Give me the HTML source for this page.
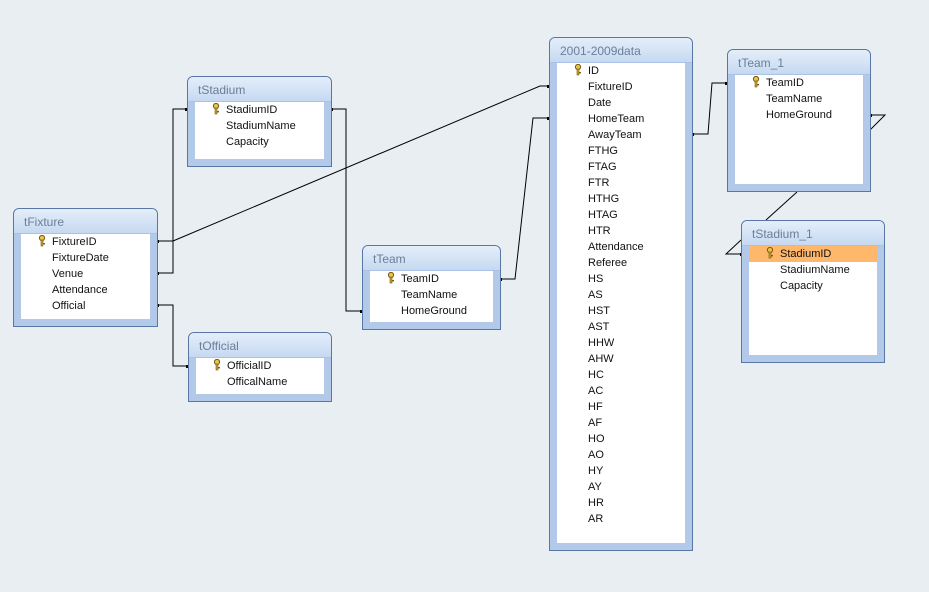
<!DOCTYPE html>
<html><head><meta charset="utf-8"><style>
body{margin:0;width:929px;height:592px;background:#e9eef2;position:relative;overflow:hidden;font-family:"Liberation Sans",sans-serif}
.t{position:absolute;border:1px solid #5877a6;border-radius:6px 6px 0 0;background:#b3c9e9;box-sizing:border-box}
.h{height:24px;background:linear-gradient(#e4eefa,#c6d9f1);border-radius:5px 5px 0 0;border-bottom:1px solid #a9c2e6;color:#6b7f98;font-size:12px;line-height:26px;padding-left:10px}
.w{position:absolute;left:7px;right:7px;top:25px;bottom:7px;background:#fff}
.r{position:absolute;font-size:11px;color:#111;height:16px;line-height:16px}
.k{position:absolute;width:8px;height:12px}
svg{position:absolute;left:0;top:0}
</style></head><body>
<svg width="929" height="592"><g stroke="#000" stroke-width="1" fill="none">
<polyline points="157,241 173,241 173,109 187,109"/>
<polyline points="157,273 173,273 173,241"/>
<polyline points="173,241 540,86 549,86"/>
<polyline points="157,305 173,305 173,366 188,366"/>
<polyline points="331,109 346,109 346,311 362,311"/>
<polyline points="500,279 515,279 533,118 549,118"/>
<polyline points="692,134 708,134 712,83 727,83"/>
<polyline points="870,115 885,115 870,130"/>
<polyline points="797,192 766,220"/>
<polyline points="741,254 726,254 741,240"/>
</g><g fill="#000">
<rect x="156" y="240" width="3" height="3"/><rect x="156" y="272" width="3" height="3"/><rect x="156" y="304" width="3" height="3"/>
<rect x="185" y="108" width="3" height="3"/><rect x="186" y="365" width="3" height="3"/><rect x="330" y="108" width="3" height="3"/>
<rect x="360" y="310" width="3" height="3"/><rect x="499" y="278" width="3" height="3"/><rect x="547" y="85" width="3" height="3"/>
<rect x="547" y="117" width="3" height="3"/><rect x="691" y="133" width="3" height="3"/><rect x="725" y="82" width="3" height="3"/>
<rect x="869" y="114" width="3" height="3"/><rect x="740" y="253" width="3" height="3"/></g></svg>

<div id="c"></div>
<script>
var T=[
["tFixture",13,208,157,326,["FixtureID","FixtureDate","Venue","Attendance","Official"],52],
["tStadium",187,76,331,166,["StadiumID","StadiumName","Capacity"],226],
["tOfficial",188,332,331,401,["OfficialID","OfficalName"],227],
["tTeam",362,245,500,329,["TeamID","TeamName","HomeGround"],401],
["2001-2009data",549,37,692,550,["ID","FixtureID","Date","HomeTeam","AwayTeam","FTHG","FTAG","FTR","HTHG","HTAG","HTR","Attendance","Referee","HS","AS","HST","AST","HHW","AHW","HC","AC","HF","AF","HO","AO","HY","AY","HR","AR"],588],
["tTeam_1",727,49,870,191,["TeamID","TeamName","HomeGround"],766],
["tStadium_1",741,220,884,362,["StadiumID","StadiumName","Capacity"],780]];
var h="";
var key='<svg class="k" viewBox="0 0 8 12" style="position:absolute"><circle cx="4" cy="3" r="2.6" fill="#e8c44a" stroke="#7a5a10" stroke-width="1"/><rect x="3" y="5" width="2" height="6" fill="#c9a02e" stroke="#7a5a10" stroke-width=".6"/><rect x="5" y="8" width="2" height="1.4" fill="#7a5a10"/></svg>';
T.forEach(function(t,i){
 var L=t[1],Tp=t[2],R=t[3],B=t[4];
 h+='<div class="t" style="left:'+L+'px;top:'+Tp+'px;width:'+(R-L+1)+'px;height:'+(B-Tp+1)+'px"><div class="h">'+t[0]+'</div><div class="w"></div></div>';
 t[5].forEach(function(n,j){
  var y=Tp+25+j*16;
  if(i==6&&j==0)h+='<div style="position:absolute;left:'+(L+8)+'px;top:'+(y+1)+'px;width:'+(R-L-15)+'px;height:16px;background:#ffb76b"></div>';
  h+='<div class="r" style="left:'+t[6]+'px;top:'+(y+1)+'px">'+n+'</div>';
  if(j==0)h+='<div style="position:absolute;left:'+(t[6]-14)+'px;top:'+(y+2)+'px">'+key+'</div>';
 });
});
document.getElementById("c").innerHTML=h;
</script>
</body></html>
